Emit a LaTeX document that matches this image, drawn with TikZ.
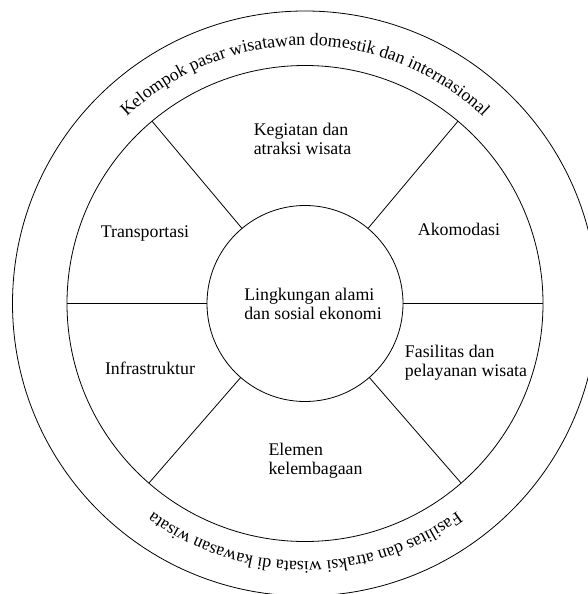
\documentclass[tikz,border=0pt]{standalone}
\usepackage{fontspec}
\setmainfont{Liberation Serif}
\usetikzlibrary{decorations.text}
\begin{document}
\begin{tikzpicture}[x=1pt,y=1pt,
  ring/.style={circle, draw, line width=0.8pt, inner sep=0pt, outer sep=0pt},
  spoke/.style={line width=0.8pt},
  lbl/.style={font=\fontsize{17.8}{18.7}\selectfont, align=left, inner sep=0pt}]
\useasboundingbox (0,0) rectangle (587,-594);
\coordinate (c) at (305,-303.5);
\node[ring, minimum size=585pt] (outer) at (c) {};
\node[ring, minimum size=476pt] (mid) at (c) {};
\node[ring, minimum size=196pt] (inner) at (c) {};
\foreach \a in {0,50,130,180,229,311} \draw[spoke] (inner.\a) -- (mid.\a);

\node[lbl] (keg) at (302.5,-139) {Kegiatan dan\\atraksi wisata};
\node[lbl] (trans) at (145,-233) {Transportasi};
\node[lbl] (akom) at (459,-229) {Akomodasi};
\node[lbl] (ling) at (313,-304) {Lingkungan alami\\dan sosial ekonomi};
\node[lbl] (infra) at (150,-368) {Infrastruktur};
\node[lbl] (fas) at (466,-363) {Fasilitas dan\\pelayanan wisata};
\node[lbl] (elem) at (315.5,-461) {Elemen\\kelembagaan};

\path[decorate, decoration={text along path, text align=center,
  text={|\fontsize{17.8}{18.7}\selectfont|Kelompok pasar wisatawan domestik dan internasional}}]
  (c) ++(180:258) arc[start angle=180, end angle=0, radius=258];
\path[decorate, decoration={text along path, text align=center,
  text={|\fontsize{17.8}{18.7}\selectfont|Fasilitas dan atraksi wisata di kawasan wisata}}]
  (c) ++(0:258) arc[start angle=0, end angle=-180, radius=258];
\end{tikzpicture}
\end{document}
